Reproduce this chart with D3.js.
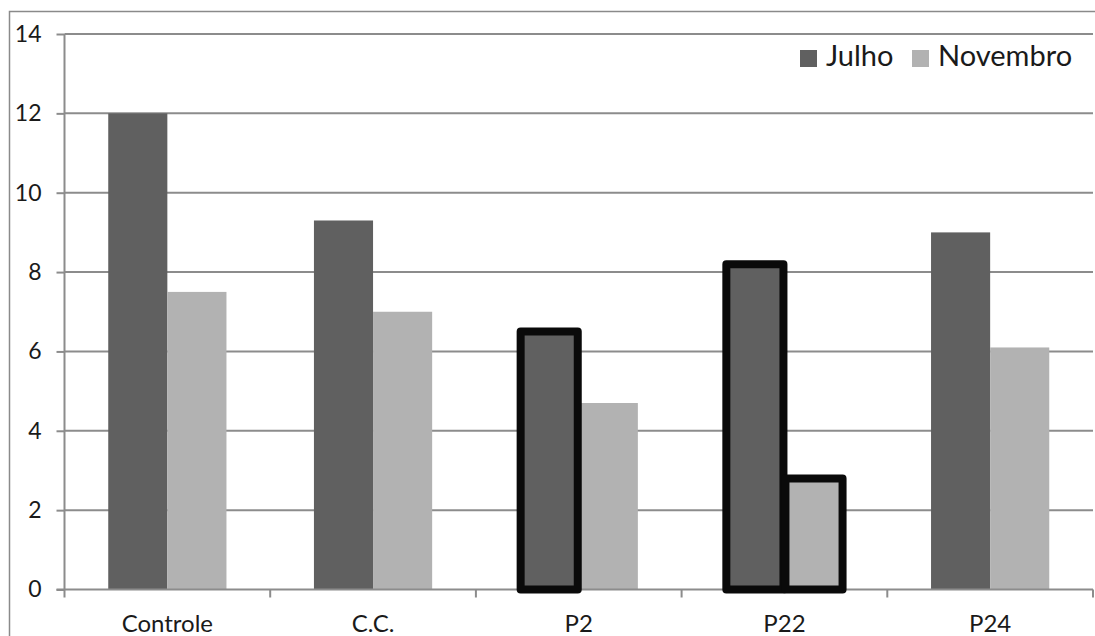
<!DOCTYPE html>
<html><head><meta charset="utf-8">
<script src="https://cdn.jsdelivr.net/npm/d3@7"></script>
<style>body{margin:0;background:#fff}svg{display:block}text{font-family:Lato,"Open Sans",sans-serif;fill:#1a1a1a}</style>
</head><body><svg id="c" width="1095" height="636"></svg>
<script>
const categories = ["Controle","C.C.","P2","P22","P24"];
const julho = [12, 9.3, 6.5, 8.2, 9.0];
const novembro = [7.5, 7.0, 4.7, 2.8, 6.1];
const seriesNames = ["Julho","Novembro"];
const yTicks = [0,2,4,6,8,10,12,14];
const highlighted = [[false,false],[false,false],[true,false],[true,true],[false,false]];

const colors = ["#606060","#b2b2b2"];
const svg = d3.select("#c");
const L = 64.5, R = 1093, T = 34, B = 589.5;
const x = d3.scaleBand().domain(categories).range([L,R]);
const xs = d3.scaleBand().domain(seriesNames).range([0, x.bandwidth()]).paddingOuter(0.74).paddingInner(0);
const y = d3.scaleLinear().domain([0,14]).range([B,T]);

// frame
svg.append("rect").attr("x",9.5).attr("y",11.5).attr("width",1100).attr("height",640)
  .attr("fill","none").attr("stroke","#8a8a8a").attr("stroke-width",1.5);

// grid
svg.append("g").selectAll("line").data(yTicks.filter(d=>d>0)).join("line")
  .attr("x1",L).attr("x2",R).attr("y1",d=>y(d)).attr("y2",d=>y(d))
  .attr("stroke","#8c8c8c").attr("stroke-width",2);

// y axis
const ya = svg.append("g").attr("transform",`translate(${L},0)`).call(d3.axisLeft(y).tickValues(yTicks).tickSize(8).tickPadding(15));
ya.select(".domain").attr("stroke","#8c8c8c").attr("stroke-width",2).attr("d",`M0,${T}V${B+8}`);
ya.selectAll(".tick line").attr("stroke","#8c8c8c").attr("stroke-width",2);
ya.selectAll("text").attr("font-size",23).attr("fill","#1a1a1a").attr("font-family","Lato,sans-serif");

// bars
const data = [];
categories.forEach((c,i)=>{
  data.push({c, s:"Julho", v:julho[i], k:0, hl:highlighted[i][0]});
  data.push({c, s:"Novembro", v:novembro[i], k:1, hl:highlighted[i][1]});
});
svg.append("g").selectAll("rect").data(data).join("rect")
  .attr("x",d=>x(d.c)+xs(d.s)).attr("width",xs.bandwidth())
  .attr("y",d=>y(d.v)).attr("height",d=>B-y(d.v))
  .attr("fill",d=>colors[d.k]);

// x axis
const xa = svg.append("g").attr("transform",`translate(0,${B})`);
xa.append("line").attr("x1",L-8).attr("x2",R).attr("stroke","#8c8c8c").attr("stroke-width",2);
const bounds = categories.map(c=>x(c)).concat([R]);
xa.selectAll(".tk").data(bounds.slice(1)).join("line").attr("class","tk")
  .attr("x1",d=>d).attr("x2",d=>d).attr("y1",0).attr("y2",8)
  .attr("stroke","#8c8c8c").attr("stroke-width",2);
xa.selectAll("text").data(categories).join("text")
  .attr("x",d=>x(d)+x.bandwidth()/2).attr("y",42).attr("text-anchor","middle")
  .attr("font-size",24).text(d=>d);

// highlighted outlines
svg.append("g").selectAll("rect").data(data.filter(d=>d.hl)).join("rect")
  .attr("x",d=>x(d.c)+xs(d.s)+1).attr("width",xs.bandwidth()-2)
  .attr("y",d=>y(d.v)).attr("height",d=>B-y(d.v))
  .attr("fill","none").attr("stroke","#0a0a0a").attr("stroke-width",8).attr("stroke-linejoin","round");

// legend
const lg = svg.append("g");
const legX = [800, 912];
seriesNames.forEach((s,i)=>{
  lg.append("rect").attr("x",legX[i]).attr("y",50).attr("width",17).attr("height",17).attr("fill",colors[i]);
  lg.append("text").attr("x",legX[i]+26).attr("y",66).attr("font-size",29).text(s);
});
</script></body></html>
